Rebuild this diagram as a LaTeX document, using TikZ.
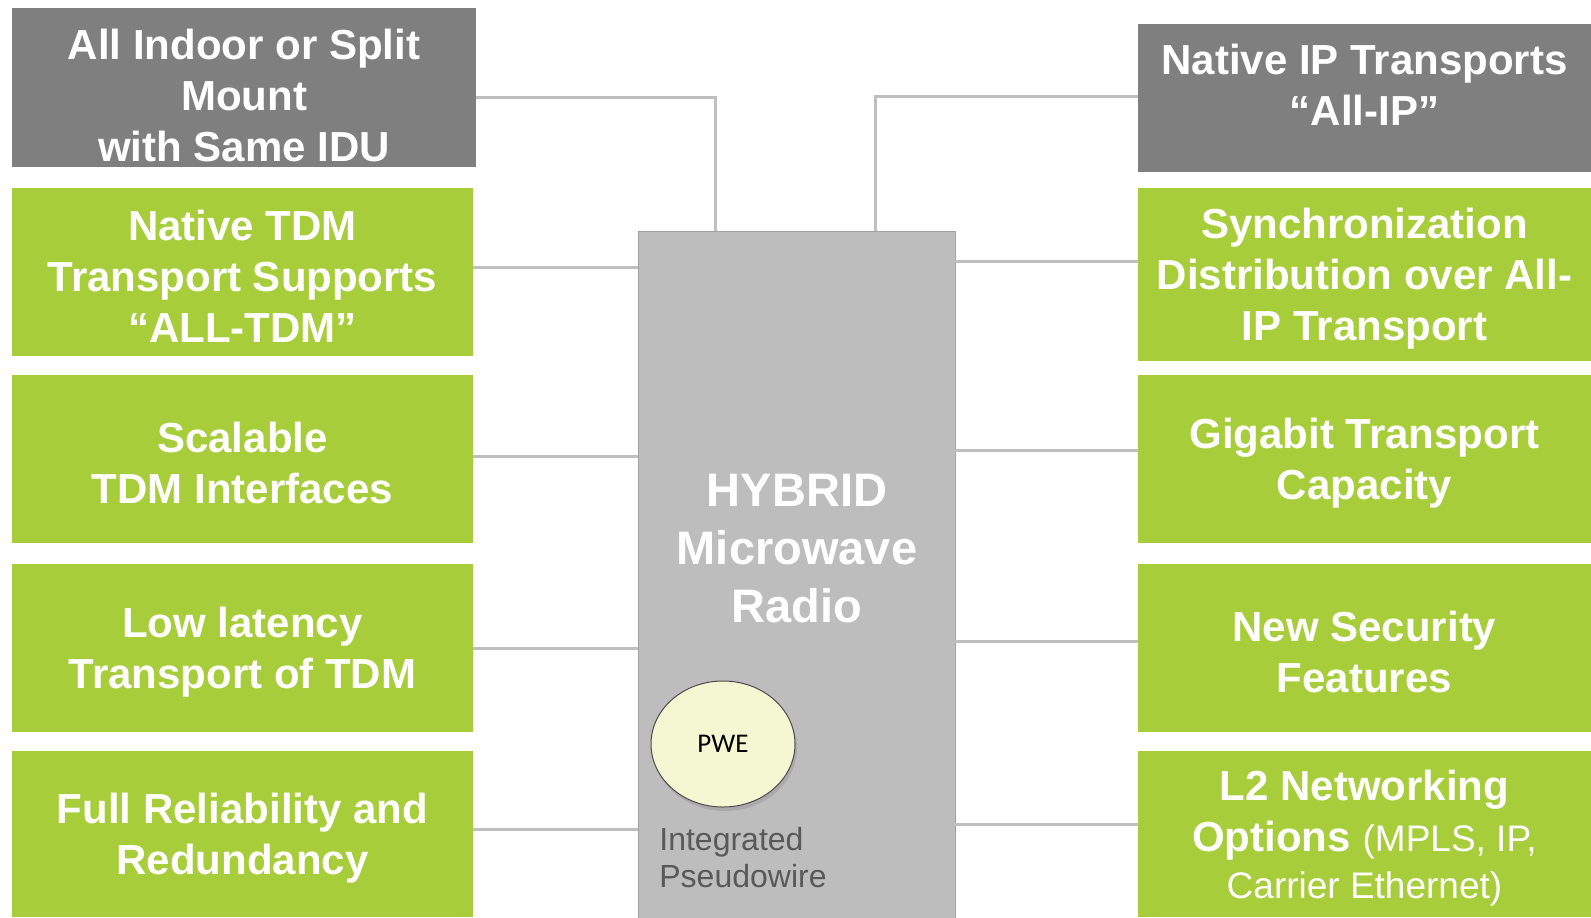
\documentclass[tikz,border=0pt]{standalone}
\usepackage{fontspec}
\setmainfont{Liberation Sans}
\newfontfamily\pwefont{Carlito}
\usetikzlibrary{positioning, calc, shapes.geometric, shadows}
\definecolor{leaf}{HTML}{A7CE3A}
\definecolor{slate}{HTML}{7F7F7F}
\definecolor{hubgray}{HTML}{BDBDBD}
\definecolor{wire}{HTML}{BFBFBF}
\definecolor{cream}{HTML}{F5F7D3}
\definecolor{note}{HTML}{595959}
\newcommand{\boxfont}{\fontsize{21pt}{25.5pt}\selectfont\bfseries}
\newcommand{\smallreg}{\fontsize{18.5pt}{22pt}\selectfont\mdseries}

\begin{document}
\begin{tikzpicture}[x=0.5pt,y=-0.5pt,
    feature/.style={fill=leaf,inner sep=0pt,outer sep=0pt},
    mount/.style={feature,fill=slate},
    inlay/.style={label={[yshift=-2pt]center:{#1}}},
    link/.style={draw=wire,line width=1.5pt},
    every label/.style={text=white,align=center,font=\boxfont}]
\useasboundingbox (0,0) rectangle (1591,917);

% centre unit
\node[fill=hubgray,draw=hubgray!85!black,line width=0.4pt,minimum width=158.5pt,
    minimum height=347pt,inner sep=0pt](hub) at (796.5,578){};
\node[text=white,align=center,font=\fontsize{23.5pt}{29pt}\selectfont\bfseries]
    (hubtext) at (797,549) {HYBRID\\Microwave\\Radio};
\node[ellipse,fill=cream,draw=black!70,line width=0.5pt,minimum width=72pt,
    minimum height=63pt,drop shadow={opacity=0.3,shadow xshift=1pt,shadow yshift=-2pt}](pwe) at (723,744)
    {\pwefont\fontsize{13.5pt}{16pt}\selectfont PWE};
\node[anchor=west,align=left,inner sep=0pt,text=note,
    font=\fontsize{16pt}{18.5pt}\selectfont](pw) at (659,858)
    {Integrated\\Pseudowire};

% left column
\node[mount,minimum width=232pt,minimum height=79.5pt,
    label={[yshift=-4pt]center:All Indoor or Split\\Mount\\with Same IDU}]
    (l1) at (244,87.5){};
\node[feature,minimum width=230.5pt,minimum height=84pt,
    inlay={Native TDM\\Transport Supports\\“ALL-TDM”}](l2) at (242.5,272){};
\node[feature,minimum width=230.5pt,minimum height=84pt,
    inlay={Scalable\\TDM Interfaces}](l3) at (242.5,459){};
\node[feature,minimum width=230.5pt,minimum height=84pt,
    inlay={Low latency\\Transport of TDM}](l4) at (242.5,648){};
\node[feature,minimum width=230.5pt,minimum height=83pt,
    inlay={Full Reliability and\\Redundancy}](l5) at (242.5,834){};

% right column
\node[mount,minimum width=226.5pt,minimum height=74pt,
    label={[yshift=6.5pt]center:Native IP Transports\\“All-IP”}]
    (r1) at (1364.5,98){};
\node[feature,minimum width=226.5pt,minimum height=86.5pt,
    inlay={Synchronization\\Distribution over All-\\IP Transport}](r2) at (1364.5,274.5){};
\node[feature,minimum width=226.5pt,minimum height=84pt,
    inlay={Gigabit Transport\\Capacity}](r3) at (1364.5,459){};
\node[feature,minimum width=226.5pt,minimum height=84pt,
    inlay={New Security\\Features}](r4) at (1364.5,648){};
\node[feature,minimum width=226.5pt,minimum height=83pt,
    inlay={L2 Networking\\Options {\smallreg(MPLS, IP,}\\[-2pt]{\smallreg Carrier Ethernet)}}]
    (r5) at (1364.5,834){};

% connectors
\draw[link] ([yshift=-5pt]l1.east) -| ($(hub.north west)!0.245!(hub.north east)$);
\draw[link] ([yshift=1pt]r1.west) -| ($(hub.north west)!0.75!(hub.north east)$);
\foreach \b/\s in {l2/2.5,l3/1.5,l4/0,l5/2.5}
    \draw[link] ([yshift=\s pt]\b.east) coordinate (tmp) -- (tmp -| hub.west);
\foreach \b/\s in {r2/6.75,r3/4.5,r4/3.5,r5/5}
    \draw[link] ([yshift=\s pt]\b.west) coordinate (tmp) -- (tmp -| hub.east);
\end{tikzpicture}
\end{document}
